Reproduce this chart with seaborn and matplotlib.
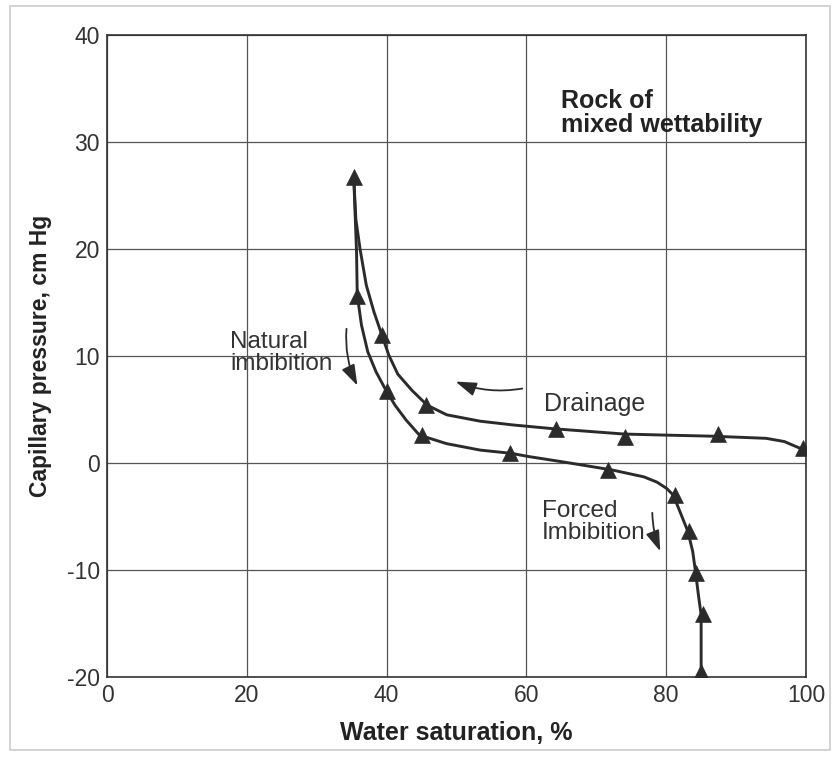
import matplotlib
matplotlib.use("Agg")
import matplotlib.pyplot as plt
from matplotlib import font_manager
import seaborn as sns
import pandas as pd
from matplotlib.patches import Rectangle, FancyArrowPatch

# Drainage curve trace (water saturation %, capillary pressure cm Hg)
drain_sw = [35.3, 35.6, 36.2, 37.1, 38.2, 39.3, 40.3, 41.6, 43.6, 45.8, 48.6,
            53.4, 58.1, 63.8, 74.0, 80.0, 86.6, 94.3, 96.9, 99.4]
drain_pc = [26.7, 22.8, 20.0, 16.6, 14.1, 12.0, 10.1, 8.3, 6.8, 5.4, 4.5,
            3.9, 3.55, 3.2, 2.7, 2.6, 2.5, 2.3, 2.0, 1.3]
# Drainage measured points
drain_pts_sw = [35.3, 39.3, 45.7, 64.3, 74.1, 87.4, 99.6]
drain_pts_pc = [26.7, 12.0, 5.4, 3.2, 2.4, 2.7, 1.4]

# Imbibition curve trace (natural, then forced)
imb_sw = [35.3, 35.7, 35.8, 36.4, 37.3, 38.5, 39.9, 41.2, 42.8, 44.7, 48.6,
          53.4, 57.8, 60.3, 65.2, 72.2, 76.8, 78.7, 80.1, 81.0, 82.0, 83.1,
          83.8, 84.2, 84.6, 85.0, 85.0]
imb_pc = [26.7, 19.7, 15.7, 12.9, 10.4, 8.5, 6.8, 5.4, 4.0, 2.6, 1.8,
          1.2, 0.9, 0.6, 0.1, -0.65, -1.3, -1.8, -2.4, -3.0, -4.6, -6.4,
          -8.3, -10.2, -12.3, -14.2, -19.5]
# Imbibition measured points
imb_pts_sw = [35.8, 40.0, 45.0, 57.7, 71.7, 81.2, 83.2, 84.3, 85.2, 85.0]
imb_pts_pc = [15.6, 6.7, 2.6, 0.9, -0.7, -3.0, -6.4, -10.3, -14.1, -19.5]

x_ticks = [0, 20, 40, 60, 80, 100]
y_ticks = [-20, -10, 0, 10, 20, 30, 40]

sns.set_theme(style="white")
plt.rcParams["font.family"] = ["Liberation Sans", "DejaVu Sans"]
plt.rcParams["axes.unicode_minus"] = False


def narrow_family():
    try:
        font_manager.findfont("Liberation Sans Narrow", fallback_to_default=False)
        return ["Liberation Sans Narrow", "Liberation Sans"]
    except Exception:
        return ["Liberation Sans"]


tick_family = narrow_family()
tick_size = 18 if tick_family[0].endswith("Narrow") else 16.5

ink = "#2b2b2b"
fig = plt.figure(figsize=(8.38, 7.58), dpi=100)
ax = fig.add_axes([0.1277, 0.107, 0.8341, 0.8468])

# outer frame of the figure
fig.patches.append(Rectangle((0.012, 0.01), 0.978, 0.982, transform=fig.transFigure,
                             fill=False, edgecolor="#cccccc", linewidth=1.2))

drain_curve = pd.DataFrame({"sw": drain_sw, "pc": drain_pc})
imb_curve = pd.DataFrame({"sw": imb_sw, "pc": imb_pc})
drain_pts = pd.DataFrame({"sw": drain_pts_sw, "pc": drain_pts_pc})
imb_pts = pd.DataFrame({"sw": imb_pts_sw, "pc": imb_pts_pc})

for curve in (drain_curve, imb_curve):
    sns.lineplot(data=curve, x="sw", y="pc", sort=False, estimator=None, ax=ax,
                 color=ink, linewidth=2.1, zorder=3)
for pts in (drain_pts, imb_pts):
    sns.scatterplot(data=pts, x="sw", y="pc", ax=ax, marker="^", s=130,
                    color=ink, edgecolor=ink, linewidth=0.5, zorder=4)

ax.set_xlim(0, 100)
ax.set_ylim(-20, 40)
ax.set_xticks(x_ticks)
ax.set_yticks(y_ticks)
ax.grid(True, color="#555555", linewidth=0.9)
for s in ax.spines.values():
    s.set_color("#333333")
    s.set_linewidth(1.2)
ax.tick_params(axis="both", length=0, labelsize=tick_size, colors="#333333", pad=5)
for lab in ax.get_xticklabels() + ax.get_yticklabels():
    lab.set_family(tick_family)

ax.set_xlabel("Water saturation, %", fontsize=18, fontweight="bold", color="#222222", labelpad=10)
ax.set_ylabel("Capillary pressure, cm Hg", fontsize=16.5, fontweight="bold", color="#222222", labelpad=11)

ax.text(65.0, 35.0, "Rock of\nmixed wettability", fontsize=18, fontweight="bold",
        color="#222222", ha="left", va="top", linespacing=1.05)
ax.text(17.6, 12.3, "Natural\nimbibition", fontsize=17.5, color="#333333",
        ha="left", va="top", linespacing=1.0)
ax.text(62.5, 5.5, "Drainage", fontsize=18, color="#333333", ha="left", va="center")
ax.text(62.2, -3.5, "Forced\nImbibition", fontsize=17.5, color="#333333",
        ha="left", va="top", linespacing=1.0)

arrow_kw = dict(arrowstyle="-|>,head_length=0.9,head_width=0.3", mutation_scale=14,
                color=ink, linewidth=1.3)
ax.add_patch(FancyArrowPatch((34.3, 12.8), (36.0, 7.0),
                             connectionstyle="arc3,rad=0.15", **arrow_kw))
ax.add_patch(FancyArrowPatch((59.8, 7.0), (49.5, 7.7),
                             connectionstyle="arc3,rad=-0.15", **arrow_kw))
ax.add_patch(FancyArrowPatch((78.0, -4.4), (79.3, -8.5),
                             connectionstyle="arc3,rad=0.1", **arrow_kw))

fig.savefig("out.png", dpi=100, facecolor="white")
